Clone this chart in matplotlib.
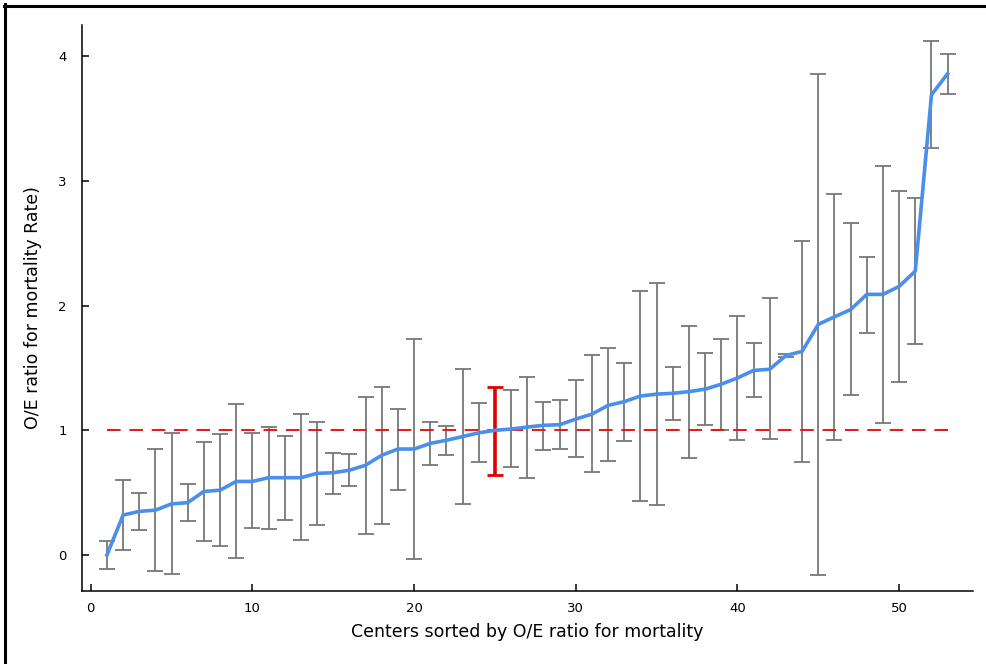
import matplotlib
matplotlib.use("Agg")
import matplotlib.pyplot as plt
from matplotlib.lines import Line2D
import numpy as np

# O/E ratio per center (sorted), with lower/upper CI bounds
centers = np.arange(1, 54)
oe_ratio = [0.00, 0.32, 0.35, 0.36, 0.41, 0.42, 0.51, 0.52, 0.59, 0.59,
            0.62, 0.62, 0.62, 0.655, 0.66, 0.68, 0.72, 0.80, 0.85, 0.85,
            0.895, 0.92, 0.95, 0.98, 1.00, 1.01, 1.026, 1.04, 1.045, 1.09,
            1.13, 1.20, 1.23, 1.275, 1.29, 1.297, 1.31, 1.33, 1.37, 1.42,
            1.48, 1.49, 1.60, 1.633, 1.85, 1.91, 1.968, 2.09, 2.09, 2.154,
            2.277, 3.69, 3.86]
ci_upper = [0.11, 0.60, 0.50, 0.85, 0.98, 0.57, 0.906, 0.97, 1.21, 0.976,
            1.024, 0.957, 1.13, 1.07, 0.82, 0.81, 1.27, 1.35, 1.17, 1.73,
            1.067, 1.035, 1.49, 1.22, 1.35, 1.32, 1.43, 1.227, 1.24, 1.40,
            1.60, 1.66, 1.54, 2.115, 2.18, 1.51, 1.84, 1.62, 1.73, 1.92,
            1.70, 2.06, 1.61, 2.515, 3.86, 2.896, 2.66, 2.39, 3.12, 2.916,
            2.86, 4.12, 4.02]
ci_lower = [-0.11, 0.04, 0.20, -0.13, -0.155, 0.27, 0.11, 0.07, -0.02, 0.22,
            0.21, 0.28, 0.12, 0.24, 0.49, 0.55, 0.17, 0.25, 0.52, -0.03,
            0.72, 0.80, 0.41, 0.745, 0.64, 0.705, 0.615, 0.845, 0.85, 0.79,
            0.666, 0.75, 0.914, 0.43, 0.40, 1.08, 0.78, 1.045, 1.00, 0.92,
            1.265, 0.93, 1.59, 0.745, -0.157, 0.92, 1.283, 1.784, 1.06, 1.389,
            1.695, 3.265, 3.70]
highlight = 25
reference = 1.0

oe_ratio = np.array(oe_ratio)
ci_upper = np.array(ci_upper)
ci_lower = np.array(ci_lower)

W, H = 986, 664
fig = plt.figure(figsize=(W / 100, H / 100), dpi=100)
ax = fig.add_axes([82 / W, (H - 590.7) / H, (972.7 - 82) / W, (590.7 - 25) / H])

# frame lines around the picture (left and top only)
fig.add_artist(Line2D([4.5 / W, 4.5 / W], [0, 1 - 4 / H], color="black", lw=2.2,
                      transform=fig.transFigure))
fig.add_artist(Line2D([3.5 / W, 1], [1 - 6 / H, 1 - 6 / H], color="black", lw=2.2,
                      transform=fig.transFigure))

mask = centers != highlight
yerr = np.vstack([oe_ratio - ci_lower, ci_upper - oe_ratio])
ax.errorbar(centers[mask], oe_ratio[mask], yerr=yerr[:, mask], fmt="none",
            ecolor="#777777", elinewidth=1.3, capsize=5.5, capthick=1.3, zorder=2)
hi = centers == highlight
ax.errorbar(centers[hi], oe_ratio[hi], yerr=yerr[:, hi], fmt="none",
            ecolor="#e00000", elinewidth=2.6, capsize=5.5, capthick=2.0, zorder=3)

ax.plot([1, 53], [reference, reference], color="#e8141c", lw=1.4,
        dashes=(7, 4.5), zorder=4)
ax.plot(centers, oe_ratio, color="#4a8fec", lw=2.6, zorder=5,
        solid_joinstyle="round")

ax.set_xlim(-0.54, 54.55)
ax.set_ylim(-0.286, 4.25)
ax.set_xticks([0, 10, 20, 30, 40, 50])
ax.set_yticks([0, 1, 2, 3, 4])
for s in ["top", "right"]:
    ax.spines[s].set_visible(False)
for s in ["left", "bottom"]:
    ax.spines[s].set_linewidth(1.1)
ax.tick_params(direction="in", length=5, width=1.1, labelsize=9.5, pad=8)
ax.tick_params(axis="y", pad=11)

ax.set_xlabel("Centers sorted by O/E ratio for mortality", fontsize=12.5, labelpad=6)
ax.set_ylabel("O/E ratio for mortality Rate)", fontsize=12.5, labelpad=12)

fig.savefig("out.png", dpi=100)
